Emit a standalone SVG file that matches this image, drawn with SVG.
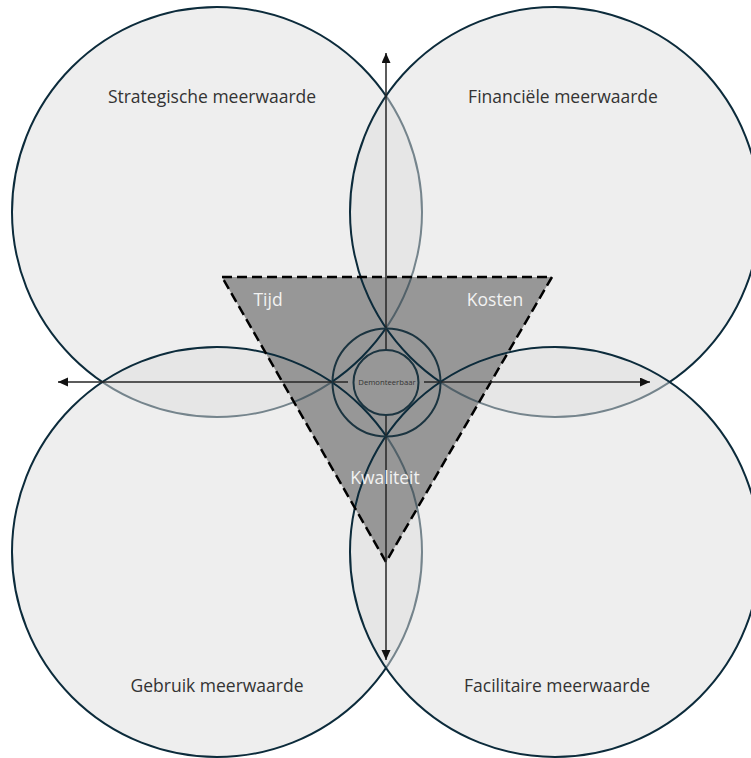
<svg xmlns="http://www.w3.org/2000/svg" width="751" height="758" viewBox="0 0 751 758">
  <defs>
    <style>
      .big { fill: #dedede; fill-opacity: 0.5; stroke: #0c2b3b; stroke-width: 2; }
      .inner { fill: #979797; fill-opacity: 0.5; stroke: #0c2b3b; stroke-width: 2; }
      .ring { fill: none; stroke: #1b3440; stroke-width: 2; }
      .axis { stroke: #262626; stroke-width: 1.5; fill: none; }
      .lbl { font-family: "Open Sans", "Noto Sans", sans-serif; font-size: 17.5px; fill: #333333; text-anchor: middle; }
      .tri-lbl { font-family: "Open Sans", "Noto Sans", sans-serif; font-size: 17.5px; fill: #f2f2f2; text-anchor: middle; }
      .small { font-family: "Open Sans", "Noto Sans", sans-serif; font-size: 7.7px; fill: #333333; text-anchor: middle; }
    </style>
    <clipPath id="triClip">
      <polygon points="222,277 552,277 386,562"/>
    </clipPath>
    <marker id="arrow" markerUnits="userSpaceOnUse" markerWidth="11" markerHeight="10" refX="10" refY="4.5" orient="auto">
      <path d="M0,0 L10,4.5 L0,9 Z" fill="#111111"/>
    </marker>
  </defs>
  <rect width="751" height="758" fill="#ffffff"/>

  <g id="strategisch"><circle class="big" cx="217" cy="212" r="205"/></g>
  <g id="financieel"><circle class="big" cx="555" cy="212" r="205"/></g>
  <g id="gebruik"><circle class="big" cx="217" cy="552" r="205"/></g>
  <g id="facilitair"><circle class="big" cx="555" cy="552" r="205"/></g>

  <g id="driehoek">
    <polygon points="222,277 552,277 386,562" fill="#979797"/>
    <g clip-path="url(#triClip)">
      <circle class="inner" cx="217" cy="212" r="205"/>
      <circle class="inner" cx="555" cy="212" r="205"/>
      <circle class="inner" cx="217" cy="552" r="205"/>
      <circle class="inner" cx="555" cy="552" r="205"/>
    </g>
    <polygon points="222,277 552,277 386,562" fill="none" stroke="#000000" stroke-width="2.5" stroke-dasharray="10 5"/>
  </g>

  <g id="connectors">
    <line class="axis" x1="348" y1="382" x2="58" y2="382" marker-end="url(#arrow)"/>
    <line class="axis" x1="424" y1="382" x2="650" y2="382" marker-end="url(#arrow)"/>
    <line class="axis" x1="386" y1="350" x2="386" y2="53" marker-end="url(#arrow)"/>
    <line class="axis" x1="386" y1="415" x2="386" y2="660" marker-end="url(#arrow)"/>
  </g>

  <g id="demonteerbaar">
    <circle class="ring" cx="386.5" cy="382.5" r="54"/>
    <circle class="ring" cx="386" cy="382.5" r="32.5"/>
    <text class="small" x="387" y="385">Demonteerbaar</text>
  </g>

  <g id="labels">
    <text class="lbl" x="212" y="103">Strategische meerwaarde</text>
    <text class="lbl" x="563" y="103">Financiële meerwaarde</text>
    <text class="lbl" x="217" y="692">Gebruik meerwaarde</text>
    <text class="lbl" x="557" y="692">Facilitaire meerwaarde</text>
  </g>
  <g id="triangle-labels">
    <text class="tri-lbl" x="268" y="306">Tijd</text>
    <text class="tri-lbl" x="495" y="306">Kosten</text>
    <text class="tri-lbl" x="385" y="484">Kwaliteit</text>
  </g>
</svg>
